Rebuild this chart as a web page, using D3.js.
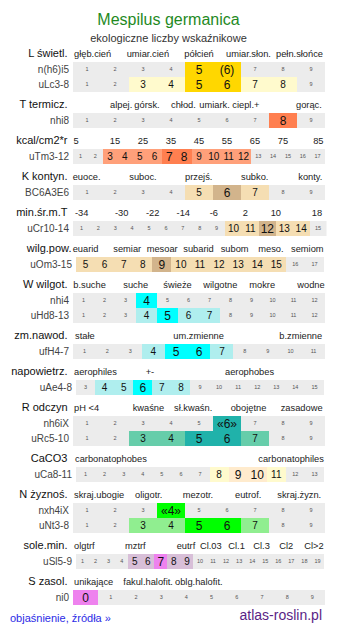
<!DOCTYPE html>
<html><head><meta charset="utf-8">
<script src="https://cdn.jsdelivr.net/npm/d3@7"></script>
<style>html,body{margin:0;padding:0;background:#fff;} svg{display:block;font-family:"Liberation Sans",Arial,Helvetica,sans-serif;}</style>
</head><body><svg id="c" width="337" height="634"></svg>
<script>
// ---------- data ----------
const title = "Mespilus germanica";
const subtitle = "ekologiczne liczby wskaźnikowe";
const footerLeft = "objaśnienie, źródła »";
const footerRight = "atlas-roslin.pl";

const sectionTitles = ["L świetl.","T termicz.","kcal/cm2*r","K kontyn.","min.śr.m.T","wilg.pow.","W wilgot.","zm.nawod.","napowietrz.","R odczyn","CaCO3","N żyznoś.","sole.min.","S zasol."];
const sectionTicks = [
  ["głęb.cień","umiar.cień","półcień","umiar.słon.","pełn.słońce"],
  ["alpej.","górsk.","chłod.","umiark.","ciepl.+","gorąc."],
  ["5","15","25","35","45","55","65","75","85"],
  ["euoce.","suboc.","przejś.","subko.","konty."],
  ["-34","-30","-22","-14","-6","2","10","18"],
  ["euarid","semiar","mesoar","subarid","subom","meso.","semiom"],
  ["b.suche","suche","świeże","wilgotne","mokre","wodne"],
  ["stałe","um.zmienne","b.zmienne"],
  ["aerophiles","+-","aerophobes"],
  ["pH <4","kwaśne","sł.kwaśn.","obojętne","zasadowe"],
  ["carbonatophobes","carbonatophiles"],
  ["skraj.ubogie","oligotr.","mezotr.","eutrof.","skraj.żyzn."],
  ["olgtrf","mztrf","eutrf","Cl.03","Cl.1","Cl.3","Cl2","Cl>2"],
  ["unikające","fakul.halofit.","oblg.halofit."]
];
const rowSection = [0,0,1,2,3,4,5,6,6,7,8,9,9,10,11,11,12,13];
const rowCodes  = ["n(h6)i5","uLc3-8","nhi8","uTm3-12","BC6A3E6","uCr10-14","uOm3-15","nhi4","uHd8-13","ufH4-7","uAe4-8","nh6iX","uRc5-10","uCa8-11","nxh4iX","uNt3-8","uSl5-9","ni0"];
const rowFirst  = [1,1,1,1,1,1,5,1,1,1,3,1,1,1,1,1,1,0];
const rowLast   = [9,9,9,17,9,15,17,12,12,11,15,9,9,13,9,9,19,9];
const rowStrong = [[5,6],[5,6],[8],[7,8],[6],[12],[9],[4],[5],[5,6],[6],[6],[5,6],[9,10],[4],[5,6],[7],[0]];
const rowLight  = [[],[3,4,7,8],[],[3,4,5,6,9,10,11,12],[5,7],[10,11,13,14],[5,6,7,8,10,11,12,13,14,15],[],[4,6,7],[4,7],[4,5,7,8],[],[3,4,7],[8,11],[],[3,4,7],[5,6,8,9],[]];
const rowNotes  = [{6:"(6)"},{},{},{},{},{},{},{},{},{},{},{6:"«6»"},{},{},{4:"«4»"},{},{},{}];

// ---------- styles / layout ----------
const strongColors = ["#ffd700","#ff7f50","#ff7f50","#d2b48c","#d2b48c","#d2b48c","#00ffff","#00ffff","#00ffff","#20b2aa","#ffebcd","#00ff00","#ee82ee","#ee82ee"];
const lightColors  = ["#fffacd","#ffa07a","#ffa07a","#f5deb3","#f5deb3","#f5deb3","#afeeee","#afeeee","#afeeee","#66cdaa","#fffacd","#90ee90","#d8bfd8","#d8bfd8"];
const GREY = "#ececec";
const X0 = 73, X1 = 325, WX0 = 76, WX1 = 324;
const rowX0 = rowCodes.map((c,i)=> [6,10,13,16].includes(i) ? WX0 : X0);
const rowX1 = rowCodes.map((c,i)=> [6,10,13,16].includes(i) ? WX1 : (i===5 ? 326.5 : X1));
const ROW_H = 15, SECTION_GAP = 21, FIRST_ROW = 62;
const catRight = sectionTitles.map((t,i)=> i===5 ? 71.5 : 67.5);
// tick label x (start anchors unless noted)
const tickX = [
  [74,126.7,184.3,226,276],
  [110,134.3,171,199.3,232.3,296],
  null,
  [72.7,129.3,185,241,298.3],
  [81.7,121.7,152.7,183.3,213.8,245.3,275.8,317],
  [72.7,113.3,146.7,183.3,220.7,258.3,291],
  [73.3,123.3,163.3,203.3,249.3,297.3],
  [75,173.3,279.3],
  [74,145.7,225],
  [74,132.7,174,230.7,280.7],
  [75,258.3],
  [74,135,182.7,235,277.3],
  [74,125,176.7,200,228.3,253.3,279.3,304.3],
  [74,123.3,175]
];
const tickMiddle = [4];

const svg = d3.select("#c");

svg.append("text").attr("x",168.5).attr("y",24.5).attr("text-anchor","middle")
  .attr("font-size",16).attr("fill","#1f8a1f").text(title);
svg.append("text").attr("x",168.5).attr("y",41.5).attr("text-anchor","middle")
  .attr("font-size",11).attr("fill","#333").text(subtitle);

let y = FIRST_ROW;
sectionTitles.forEach((name, s) => {
  const rows = d3.range(rowCodes.length).filter(i => rowSection[i] === s);
  const hb = y - 5.5;
  svg.append("text").attr("x",catRight[s]).attr("y",hb).attr("text-anchor","end")
    .attr("font-size",11).attr("fill","#111").text(name);

  const g = svg.append("g").attr("font-size",9.3).attr("fill","#222");
  if (s === 2) {
    const ri = rows[0];
    const band = d3.scaleBand().domain(d3.range(sectionTicks[s].length)).range([X0, X1]);
    sectionTicks[s].forEach((t,k) => {
      const last = sectionTicks[s].length - 1;
      const x = k === 0 ? X0 + 0.5 : (k === last ? X1 - 1.5 : band(k) + band.bandwidth()/2);
      g.append("text").attr("x",x).attr("y",hb)
        .attr("text-anchor", k === 0 ? "start" : (k === last ? "end" : "middle")).text(t);
    });
  } else {
    sectionTicks[s].forEach((t,k) => {
      g.append("text").attr("x",tickX[s][k]).attr("y",hb)
        .attr("text-anchor", tickMiddle.includes(s) ? "middle" : "start").text(t);
    });
  }

  rows.forEach((ri, r) => {
    const top = y + r*ROW_H;
    const vals = d3.range(rowFirst[ri], rowLast[ri] + 1);
    const xs = d3.scaleBand().domain(vals).range([rowX0[ri], rowX1[ri]]);
    svg.append("text").attr("x", rowX0[ri] - 4).attr("y", top + 11)
      .attr("text-anchor","end").attr("font-size",10).attr("fill","#444").text(rowCodes[ri]);
    svg.append("rect").attr("x",rowX0[ri]).attr("y",top).attr("width",rowX1[ri]-rowX0[ri]).attr("height",ROW_H)
      .attr("fill",GREY);
    const level = v => rowStrong[ri].includes(v) ? 2 : (rowLight[ri].includes(v) ? 1 : 0);
    const cells = svg.append("g").selectAll("g").data(vals).join("g");
    cells.filter(v => level(v) > 0).append("rect")
      .attr("x", v => xs(v)).attr("y", top).attr("width", xs.bandwidth()).attr("height", ROW_H)
      .attr("shape-rendering","crispEdges")
      .attr("fill", v => level(v) === 2 ? strongColors[s] : lightColors[s]);
    cells.append("text")
      .attr("x", v => xs(v) + xs.bandwidth()/2).attr("y", top + ROW_H/2)
      .attr("dy", v => level(v) === 0 ? "0.35em" : "0.36em")
      .attr("text-anchor","middle")
      .attr("font-size", v => [5.5, 10, 12][level(v)])
      .attr("fill", v => level(v) === 0 ? "#555" : "#111")
      .text(v => rowNotes[ri][v] !== undefined ? rowNotes[ri][v] : String(v));
  });
  y += rows.length * ROW_H + SECTION_GAP;
});

svg.append("text").attr("x",10).attr("y",621.5).attr("font-size",11).attr("fill","#2b2be6").text(footerLeft);
svg.append("text").attr("x",322).attr("y",620).attr("text-anchor","end").attr("font-size",14).attr("fill","#5a1e86").text(footerRight);
</script></body></html>
